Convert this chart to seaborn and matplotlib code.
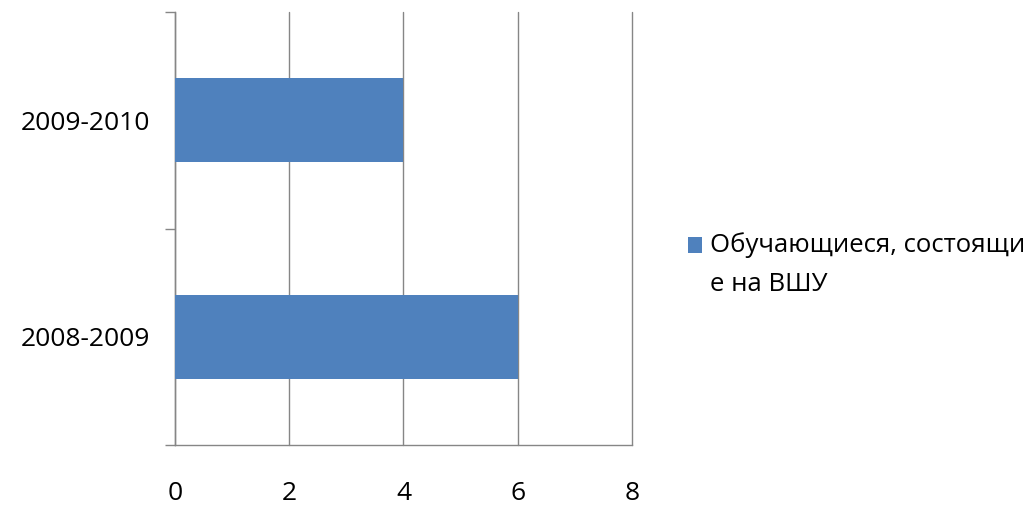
import pandas as pd
import matplotlib
matplotlib.use('Agg')
import matplotlib.pyplot as plt
import seaborn as sns

# Chart data
years = ['2009-2010', '2008-2009']
students = [4, 6]
series_name = 'Обучающиеся, состоящи\nе на ВШУ'
x_ticks = [0, 2, 4, 6, 8]

df = pd.DataFrame({'year': years, 'value': students})

sns.set_style('white')
plt.rcParams['font.family'] = ['Open Sans', 'DejaVu Sans']

grey = '#868686'
blue = '#4F81BD'

fig = plt.figure(figsize=(10.34, 5.09), dpi=100)
ax = fig.add_axes([0.1692, 0.1257, 0.442, 0.8507])

sns.barplot(data=df, x='value', y='year', orient='h', color=blue,
            width=0.39, saturation=1, linewidth=0, ax=ax,
            label=series_name, zorder=3)

ax.set_xlim(0, 8)
ax.set_xticks(x_ticks)
ax.set_xticklabels([str(t) for t in x_ticks])
ax.set_ylim(1.5, -0.5)
ax.set_yticks([-0.5, 0.5, 1.5], minor=True)

ax.grid(axis='x', color=grey, linewidth=1, zorder=0)
ax.grid(axis='y', visible=False)
for gl in ax.get_xgridlines():
    gl.set_clip_on(False)

for side in ['top', 'right']:
    ax.spines[side].set_visible(False)
for side in ['left', 'bottom']:
    ax.spines[side].set_color(grey)
    ax.spines[side].set_linewidth(1)

ax.tick_params(axis='x', which='major', length=7, width=1, color=grey,
               direction='out', pad=19, labelsize=19, labelcolor='black')
ax.tick_params(axis='y', which='major', length=0, pad=18, labelsize=19,
               labelcolor='black')
ax.tick_params(axis='y', which='minor', length=7, width=1, color=grey,
               direction='out', left=True)

ax.set_xlabel('')
ax.set_ylabel('')

leg = ax.legend(loc='center left', bbox_to_anchor=(1.1, 0.416), frameon=False,
                fontsize=18.5, handlelength=0.55, handleheight=0.55,
                handletextpad=0.3, borderaxespad=0)
for t in leg.get_texts():
    t.set_linespacing(1.73)
    t.set_color('black')
# square next to the first line, as in the reference
h = leg.legend_handles[0]
h.set_y(h.get_y() + 14.5)

fig.savefig('out.png', dpi=100)
